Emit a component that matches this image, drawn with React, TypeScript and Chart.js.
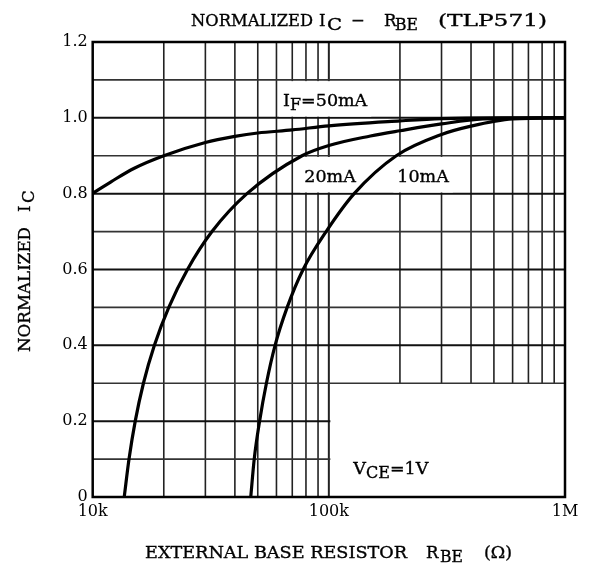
import React, { useEffect, useRef } from "react";
import { Chart, registerables } from "chart.js";

Chart.register(...registerables);

// ---- data ----
const rbe50 = [10000, 12000, 15000, 20000, 30000, 40000, 50000, 70000, 100000, 200000, 300000, 500000, 1000000];
const ic50 = [0.801, 0.832, 0.867, 0.9, 0.935, 0.951, 0.96, 0.968, 0.979, 0.992, 0.998, 1.0, 1.0];

const rbe20 = [13600, 14250, 15140, 16400, 18250, 21000, 25200, 32000, 45000, 77000, 100000, 150000, 200000, 300000, 450000, 1000000];
const ic20 = [0, 0.1, 0.2, 0.3, 0.4, 0.5, 0.6, 0.7, 0.8, 0.9, 0.927, 0.952, 0.966, 0.984, 0.997, 1.0];

const rbe10 = [46700, 48300, 50900, 54400, 59200, 66600, 77800, 97400, 128000, 193000, 300000, 400000, 600000, 1000000];
const ic10 = [0, 0.1, 0.2, 0.3, 0.4, 0.5, 0.6, 0.7, 0.8, 0.9, 0.956, 0.978, 0.997, 1.0];

const xTickValues = [10000, 100000, 1000000];
const xTickLabels = ["10k", "100k", "1M"];
const yTickValues = [0, 0.2, 0.4, 0.6, 0.8, 1.0, 1.2];
const yTickLabels = ["0", "0.2", "0.4", "0.6", "0.8", "1.0", "1.2"];

const xGridValues = [
  20000, 30000, 40000, 50000, 60000, 70000, 80000, 90000, 100000,
  200000, 300000, 400000, 500000, 600000, 700000, 800000, 900000,
];
const yGridValues = [0.1, 0.2, 0.3, 0.4, 0.5, 0.6, 0.7, 0.8, 0.9, 1.0, 1.1];

const FONT = '"DejaVu Serif", serif';
const TEXT_STROKE = 0.35;

type Part = { t: string; sub?: boolean };

function drawRich(ctx: CanvasRenderingContext2D, parts: Part[], x: number, y: number, size: number, subSize: number, subDy: number, draw = true) {
  let cx = x;
  for (const p of parts) {
    ctx.font = `${p.sub ? subSize : size}px ${FONT}`;
    if (draw) {
      ctx.fillText(p.t, cx, y + (p.sub ? subDy : 0));
      ctx.strokeText(p.t, cx, y + (p.sub ? subDy : 0));
    }
    cx += ctx.measureText(p.t).width;
  }
  return cx - x;
}

// draws text starting at x, stretched horizontally to the given width (if > 0)
function fitText(ctx: CanvasRenderingContext2D, text: string, x: number, y: number, size: number, width: number) {
  ctx.font = `${size}px ${FONT}`;
  const nat = ctx.measureText(text).width;
  const sx = width > 0 ? width / nat : 1;
  ctx.save();
  ctx.translate(x, y);
  ctx.scale(sx, 1);
  ctx.fillText(text, 0, 0);
  ctx.strokeText(text, 0, 0);
  ctx.restore();
}

const LABEL_SIZE = 17.5;
const LABEL_SUB = 16;

// in-plot labels anchored in data space
const plotLabels: { parts: Part[]; xv: number; yv: number; band: [number, number] | null }[] = [
  { parts: [{ t: "I" }, { t: "F", sub: true }, { t: "=50mA" }], xv: 64000, yv: 1.032, band: [1.1, 1.0] },
  { parts: [{ t: "20mA" }], xv: 78700, yv: 0.832, band: [0.9, 0.8] },
  { parts: [{ t: "10mA" }], xv: 195000, yv: 0.832, band: [0.9, 0.8] },
  { parts: [{ t: "V" }, { t: "CE", sub: true }, { t: "=1V" }], xv: 127000, yv: 0.06, band: null },
];

const plotPlugin = {
  id: "plotDecor",
  beforeDatasetsDraw(chart: any) {
    const { ctx, chartArea: a, scales } = chart;
    const xs = scales.x;
    const ys = scales.y;
    ctx.save();
    // vertical grid
    for (const v of xGridValues) {
      const px = xs.getPixelForValue(v);
      const yBot = v > 100000 && v < 1000000 ? ys.getPixelForValue(0.3) : a.bottom;
      ctx.beginPath();
      ctx.lineWidth = v === 100000 ? 2 : 1.6;
      ctx.strokeStyle = "#222";
      ctx.moveTo(px, a.top);
      ctx.lineTo(px, yBot);
      ctx.stroke();
    }
    // horizontal grid
    for (const g of yGridValues) {
      const py = ys.getPixelForValue(g);
      const xEnd = g < 0.3 ? xs.getPixelForValue(100000) + 1.5 : a.right;
      const major = Math.round(g * 10) % 2 === 0;
      ctx.beginPath();
      ctx.lineWidth = major ? 2 : 1.6;
      ctx.strokeStyle = major ? "#111" : "#333";
      ctx.moveTo(a.left, py);
      ctx.lineTo(xEnd, py);
      ctx.stroke();
    }
    // white label boxes
    ctx.fillStyle = "#fff";
    for (const l of plotLabels) {
      if (!l.band) continue;
      const x0 = xs.getPixelForValue(l.xv);
      const w = drawRich(ctx, l.parts, x0, 0, LABEL_SIZE, LABEL_SUB, 4, false);
      const top = ys.getPixelForValue(l.band[0]) + 1.2;
      const bot = ys.getPixelForValue(l.band[1]) - 1.2;
      ctx.fillRect(x0 - 4, top, w + 8, bot - top);
    }
    // frame
    ctx.lineWidth = 2.5;
    ctx.strokeStyle = "#000";
    ctx.strokeRect(a.left, a.top, a.right - a.left, a.bottom - a.top);
    ctx.restore();
  },
  afterDatasetsDraw(chart: any) {
    const { ctx, scales } = chart;
    ctx.save();
    ctx.fillStyle = "#000";
    ctx.strokeStyle = "#000";
    ctx.lineWidth = TEXT_STROKE;
    ctx.textBaseline = "alphabetic";
    ctx.textAlign = "left";
    for (const l of plotLabels) {
      const x0 = scales.x.getPixelForValue(l.xv);
      const y0 = scales.y.getPixelForValue(l.yv);
      drawRich(ctx, l.parts, x0, y0, LABEL_SIZE, LABEL_SUB, 4);
    }
    ctx.restore();
  },
  afterDraw(chart: any) {
    const { ctx } = chart;
    ctx.save();
    ctx.fillStyle = "#000";
    ctx.strokeStyle = "#000";
    ctx.lineWidth = TEXT_STROKE;
    ctx.textBaseline = "alphabetic";
    ctx.textAlign = "left";
    // title
    const ts = 16.5;
    fitText(ctx, "NORMALIZED", 191, 26, ts, 122);
    fitText(ctx, "I", 319, 26, ts, 0);
    fitText(ctx, "C", 327, 30, ts, 15);
    fitText(ctx, "\u2212", 351, 26, ts, 0);
    fitText(ctx, "R", 384, 26, ts, 0);
    fitText(ctx, "BE", 395, 30, ts, 23);
    fitText(ctx, "(TLP571)", 438, 26, ts, 109);
    // x axis title
    fitText(ctx, "EXTERNAL BASE RESISTOR", 145, 558, ts, 262);
    fitText(ctx, "R", 426, 558, ts, 0);
    fitText(ctx, "BE", 440, 562, ts, 23);
    fitText(ctx, "(\u03A9)", 484, 558, ts, 28);
    // y axis title (rotated)
    ctx.translate(29.5, 352);
    ctx.rotate(-Math.PI / 2);
    fitText(ctx, "NORMALIZED", 0, 0, ts, 125);
    fitText(ctx, "I", 140, 0, ts, 0);
    fitText(ctx, "C", 149, 4, ts, 0);
    ctx.restore();
  },
};

export default function App() {
  const ref = useRef<HTMLCanvasElement | null>(null);
  useEffect(() => {
    if (!ref.current) return;
    const mk = (xs: number[], ys: number[]) => xs.map((x, i) => ({ x, y: ys[i] }));
    const ds = (label: string, data: any[]) => ({
      label,
      data,
      showLine: true,
      borderColor: "#000",
      borderWidth: 3.2,
      pointRadius: 0,
      fill: false,
      cubicInterpolationMode: "monotone" as const,
    });
    const chart = new Chart(ref.current, {
      type: "scatter",
      data: {
        datasets: [
          ds("IF=50mA", mk(rbe50, ic50)),
          ds("20mA", mk(rbe20, ic20)),
          ds("10mA", mk(rbe10, ic10)),
        ],
      },
      options: {
        animation: false,
        responsive: false,
        maintainAspectRatio: false,
        layout: { padding: { left: 0, top: 42, right: 27, bottom: 0 } },
        plugins: {
          legend: { display: false },
          tooltip: { enabled: false },
          title: { display: false },
        },
        scales: {
          x: {
            type: "logarithmic",
            min: 10000,
            max: 1000000,
            grid: { display: false, drawTicks: false },
            border: { display: false },
            afterBuildTicks: (s: any) => {
              s.ticks = xTickValues.map((v) => ({ value: v }));
            },
            afterFit: (s: any) => {
              s.height = 70;
            },
            ticks: {
              autoSkip: false,
              maxRotation: 0,
              padding: 5,
              color: "#000",
              font: { family: FONT, size: 16 },
              callback: (v: any) => {
                const i = xTickValues.indexOf(Number(v));
                return i >= 0 ? xTickLabels[i] : "";
              },
            },
          },
          y: {
            type: "linear",
            min: 0,
            max: 1.2,
            grid: { display: false, drawTicks: false },
            border: { display: false },
            afterBuildTicks: (s: any) => {
              s.ticks = yTickValues.map((v) => ({ value: v }));
            },
            afterFit: (s: any) => {
              s.width = 92.7;
            },
            ticks: {
              padding: 5,
              color: "#000",
              font: { family: FONT, size: 16 },
              callback: (v: any) => {
                const i = yTickValues.findIndex((t) => Math.abs(t - Number(v)) < 1e-9);
                return i >= 0 ? yTickLabels[i] : "";
              },
            },
          },
        },
      },
      plugins: [plotPlugin],
    });
    return () => chart.destroy();
  }, []);
  return (
    <div style={{ position: "fixed", left: 0, top: 0, width: 592, height: 567, background: "#fff" }}>
      <canvas ref={ref} width={592} height={567} style={{ display: "block" }} />
    </div>
  );
}
